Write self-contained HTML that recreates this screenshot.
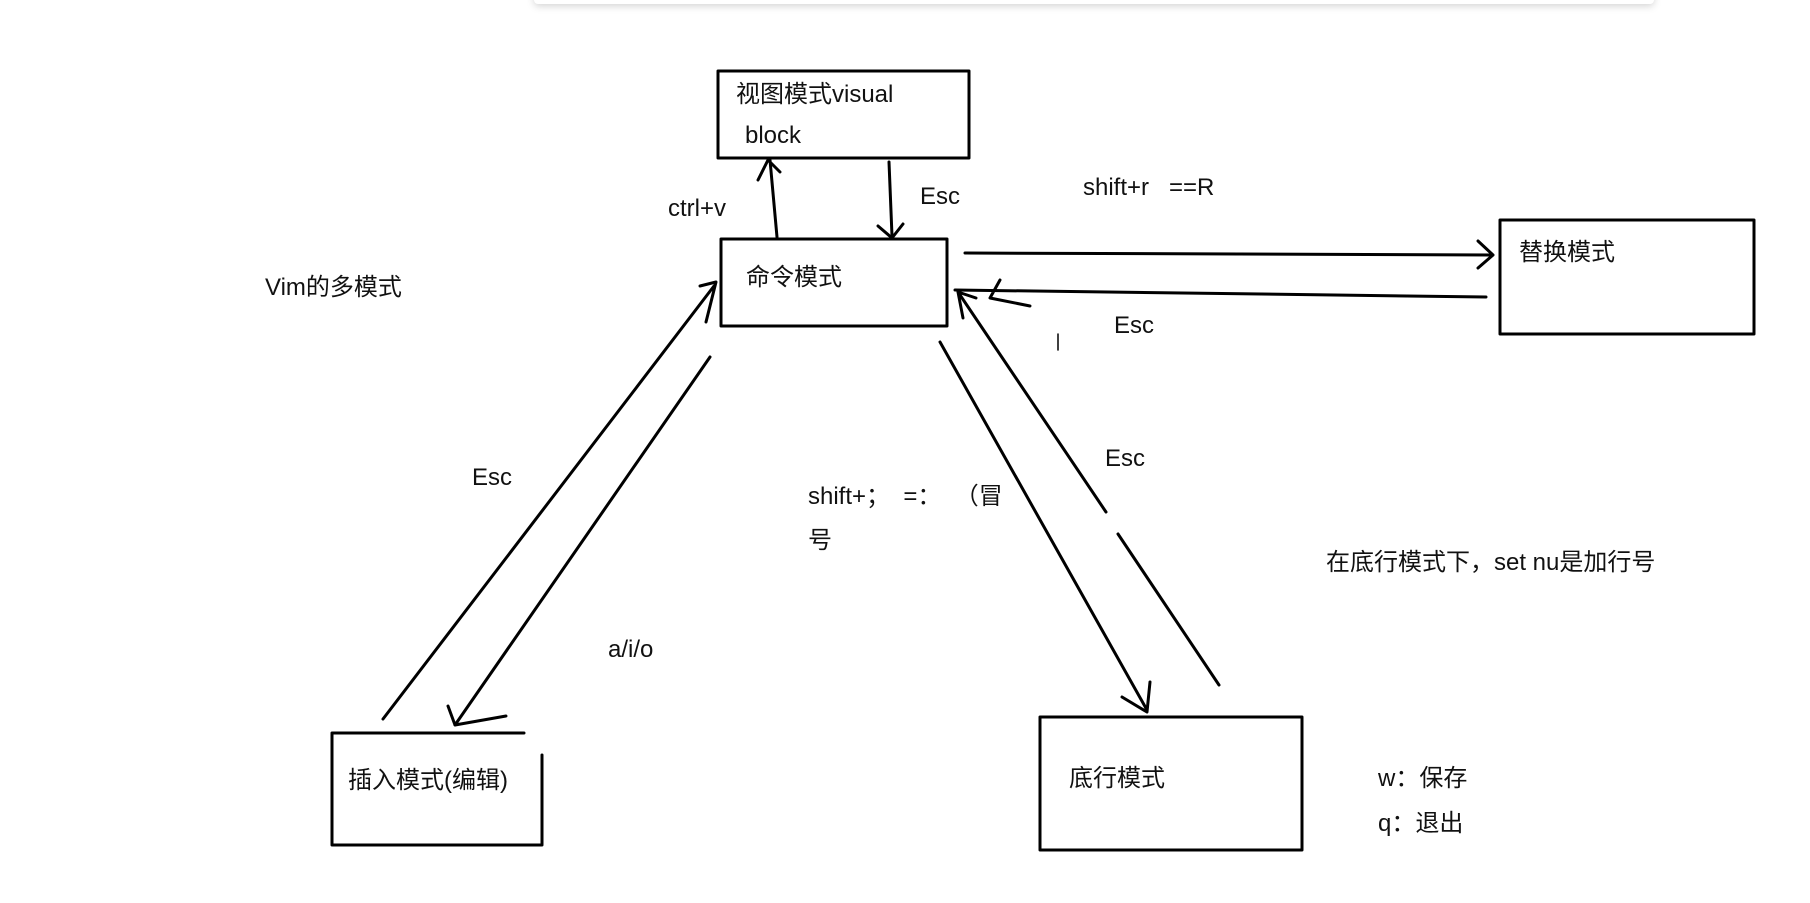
<!DOCTYPE html>
<html><head><meta charset="utf-8"><style>
html,body{margin:0;padding:0;background:#fff;}
body{width:1810px;height:903px;overflow:hidden;position:relative;}
.t{position:absolute;font-family:"Liberation Sans","Noto Sans CJK SC",sans-serif;font-size:24px;color:#111;white-space:pre;line-height:1;}
</style></head><body>
<div style="position:absolute;left:534px;top:-8px;width:1120px;height:12px;background:#fff;box-shadow:0 2px 8px rgba(0,0,0,0.18);border-radius:4px;"></div>
<svg width="1810" height="903" style="position:absolute;left:0;top:0" fill="none" stroke="#000" stroke-width="3" stroke-linecap="round" stroke-linejoin="round">
<rect x="718" y="71" width="251" height="87"/>
<rect x="721" y="239" width="226" height="87"/>
<rect x="1500" y="220" width="254" height="114"/>
<path d="M332 845 V733 H524 M542 755 V845 H332"/>
<rect x="1040" y="717" width="262" height="133"/>
<path d="M777 237 L770 160 M758 180 L768 160 L780 172"/>
<path d="M889 162 L892 236 M878 226 L892 238 L903 224"/>
<path d="M965 253 L1493 255 M1478 241 L1493 255 L1478 268"/>
<path d="M1486 297 L955 290 M1000 280 L990 298 L1030 306"/>
<path d="M1058 334 V350" stroke-width="1.5"/>
<path d="M383 719 L714 286 M700 286 L716 282 L706 322"/>
<path d="M710 357 L455 725 M448 706 L455 725 L506 716"/>
<path d="M940 342 L1147 710 M1122 697 L1147 712 L1150 682"/>
<path d="M1219 685 L1118 534 M1106 512 L958 292 M958 292 L963 318 M958 292 L976 298"/>
</svg>
<div class="t" style="left:736px;top:83px">视图模式visual</div>
<div class="t" style="left:745px;top:124px">block</div>
<div class="t" style="left:746px;top:266px">命令模式</div>
<div class="t" style="left:1519px;top:241px">替换模式</div>
<div class="t" style="left:348px;top:769px">插入模式(编辑)</div>
<div class="t" style="left:1069px;top:767px">底行模式</div>
<div class="t" style="left:265px;top:276px">Vim的多模式</div>
<div class="t" style="left:668px;top:197px">ctrl+v</div>
<div class="t" style="left:920px;top:185px">Esc</div>
<div class="t" style="left:1083px;top:176px">shift+r   ==R</div>
<div class="t" style="left:1114px;top:314px">Esc</div>
<div class="t" style="left:472px;top:466px">Esc</div>
<div class="t" style="left:808px;top:485px">shift+；  =：  （冒</div>
<div class="t" style="left:808px;top:529px">号</div>
<div class="t" style="left:1105px;top:447px">Esc</div>
<div class="t" style="left:1326px;top:551px">在底行模式下，set nu是加行号</div>
<div class="t" style="left:608px;top:638px">a/i/o</div>
<div class="t" style="left:1378px;top:767px">w：保存</div>
<div class="t" style="left:1378px;top:812px">q：退出</div>
</body></html>
